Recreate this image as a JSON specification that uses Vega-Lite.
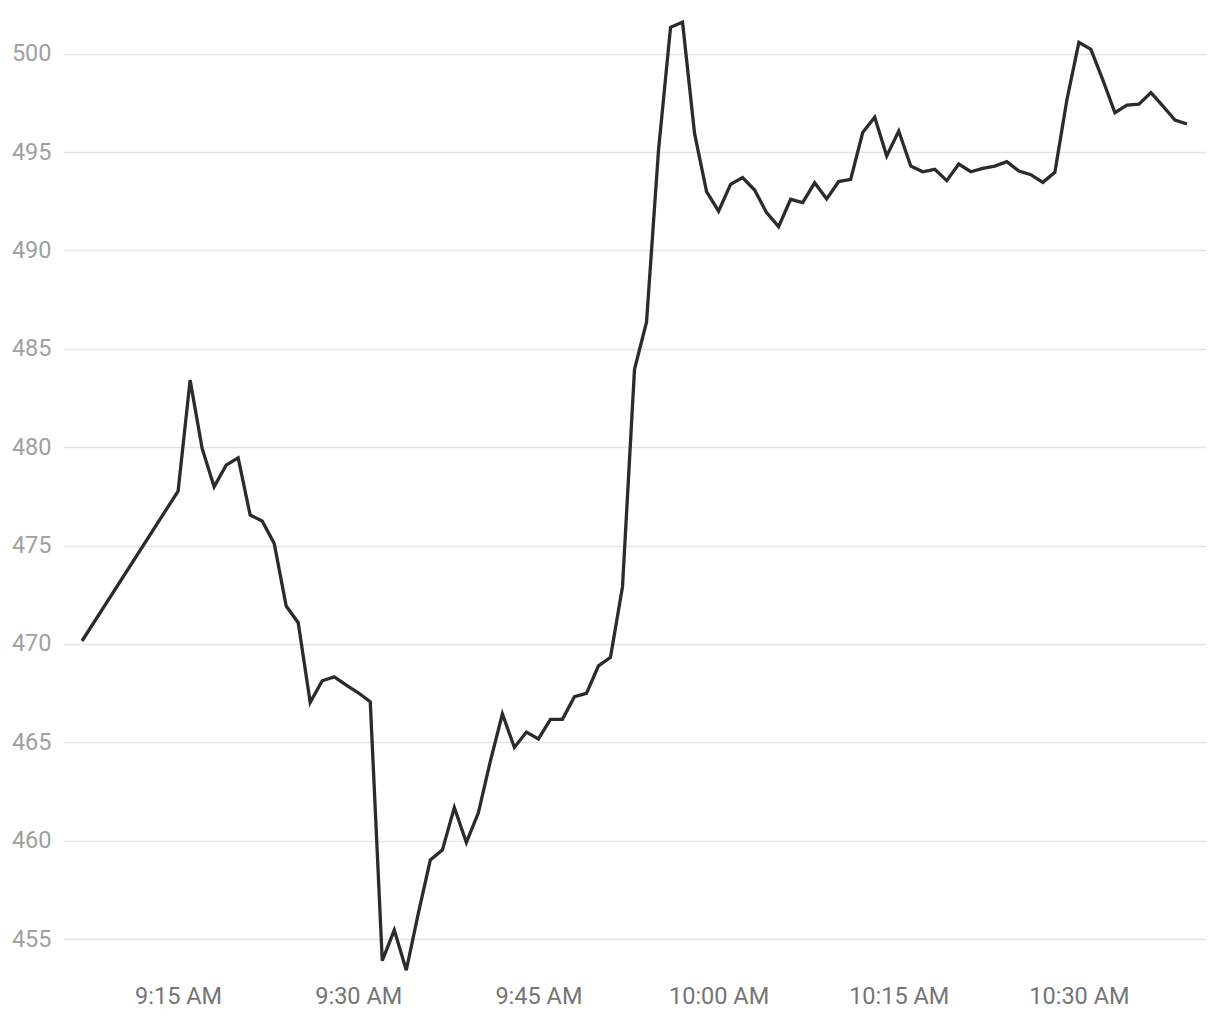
{
  "$schema": "https://vega.github.io/schema/vega-lite/v6.json",
  "width": 1143,
  "height": 980,
  "autosize": {"type": "none"},
  "padding": {"left": 63, "top": 0, "right": 14, "bottom": 40},
  "background": "white",
  "config": {
    "view": {"stroke": null},
    "font": "Roboto"
  },
  "data": {
    "values": [
      {"time": "2024-01-02T09:07:00", "price": 470.15},
      {"time": "2024-01-02T09:15:00", "price": 477.77},
      {"time": "2024-01-02T09:16:00", "price": 483.41},
      {"time": "2024-01-02T09:17:00", "price": 479.94},
      {"time": "2024-01-02T09:18:00", "price": 477.99},
      {"time": "2024-01-02T09:19:00", "price": 479.09},
      {"time": "2024-01-02T09:20:00", "price": 479.46},
      {"time": "2024-01-02T09:21:00", "price": 476.55},
      {"time": "2024-01-02T09:22:00", "price": 476.25},
      {"time": "2024-01-02T09:23:00", "price": 475.11},
      {"time": "2024-01-02T09:24:00", "price": 471.93},
      {"time": "2024-01-02T09:25:00", "price": 471.08},
      {"time": "2024-01-02T09:26:00", "price": 467.03},
      {"time": "2024-01-02T09:27:00", "price": 468.13},
      {"time": "2024-01-02T09:28:00", "price": 468.33},
      {"time": "2024-01-02T09:29:00", "price": 467.91},
      {"time": "2024-01-02T09:30:00", "price": 467.52},
      {"time": "2024-01-02T09:31:00", "price": 467.06},
      {"time": "2024-01-02T09:32:00", "price": 453.9},
      {"time": "2024-01-02T09:33:00", "price": 455.46},
      {"time": "2024-01-02T09:34:00", "price": 453.42},
      {"time": "2024-01-02T09:35:00", "price": 456.31},
      {"time": "2024-01-02T09:36:00", "price": 459.02},
      {"time": "2024-01-02T09:37:00", "price": 459.52},
      {"time": "2024-01-02T09:38:00", "price": 461.69},
      {"time": "2024-01-02T09:39:00", "price": 459.91},
      {"time": "2024-01-02T09:40:00", "price": 461.42},
      {"time": "2024-01-02T09:41:00", "price": 464.05},
      {"time": "2024-01-02T09:42:00", "price": 466.44},
      {"time": "2024-01-02T09:43:00", "price": 464.74},
      {"time": "2024-01-02T09:44:00", "price": 465.52},
      {"time": "2024-01-02T09:45:00", "price": 465.17},
      {"time": "2024-01-02T09:46:00", "price": 466.17},
      {"time": "2024-01-02T09:47:00", "price": 466.17},
      {"time": "2024-01-02T09:48:00", "price": 467.32},
      {"time": "2024-01-02T09:49:00", "price": 467.49},
      {"time": "2024-01-02T09:50:00", "price": 468.89},
      {"time": "2024-01-02T09:51:00", "price": 469.32},
      {"time": "2024-01-02T09:52:00", "price": 472.91},
      {"time": "2024-01-02T09:53:00", "price": 483.96},
      {"time": "2024-01-02T09:54:00", "price": 486.35},
      {"time": "2024-01-02T09:55:00", "price": 495.1},
      {"time": "2024-01-02T09:56:00", "price": 501.34},
      {"time": "2024-01-02T09:57:00", "price": 501.6},
      {"time": "2024-01-02T09:58:00", "price": 495.95},
      {"time": "2024-01-02T09:59:00", "price": 492.99},
      {"time": "2024-01-02T10:00:00", "price": 492.0},
      {"time": "2024-01-02T10:01:00", "price": 493.36},
      {"time": "2024-01-02T10:02:00", "price": 493.7},
      {"time": "2024-01-02T10:03:00", "price": 493.07},
      {"time": "2024-01-02T10:04:00", "price": 491.92},
      {"time": "2024-01-02T10:05:00", "price": 491.21},
      {"time": "2024-01-02T10:06:00", "price": 492.6},
      {"time": "2024-01-02T10:07:00", "price": 492.43},
      {"time": "2024-01-02T10:08:00", "price": 493.44},
      {"time": "2024-01-02T10:09:00", "price": 492.62},
      {"time": "2024-01-02T10:10:00", "price": 493.5},
      {"time": "2024-01-02T10:11:00", "price": 493.61},
      {"time": "2024-01-02T10:12:00", "price": 495.99},
      {"time": "2024-01-02T10:13:00", "price": 496.77},
      {"time": "2024-01-02T10:14:00", "price": 494.8},
      {"time": "2024-01-02T10:15:00", "price": 496.07},
      {"time": "2024-01-02T10:16:00", "price": 494.29},
      {"time": "2024-01-02T10:17:00", "price": 494.0},
      {"time": "2024-01-02T10:18:00", "price": 494.12},
      {"time": "2024-01-02T10:19:00", "price": 493.55},
      {"time": "2024-01-02T10:20:00", "price": 494.39},
      {"time": "2024-01-02T10:21:00", "price": 494.0},
      {"time": "2024-01-02T10:22:00", "price": 494.17},
      {"time": "2024-01-02T10:23:00", "price": 494.29},
      {"time": "2024-01-02T10:24:00", "price": 494.51},
      {"time": "2024-01-02T10:25:00", "price": 494.04},
      {"time": "2024-01-02T10:26:00", "price": 493.85},
      {"time": "2024-01-02T10:27:00", "price": 493.46},
      {"time": "2024-01-02T10:28:00", "price": 493.97},
      {"time": "2024-01-02T10:29:00", "price": 497.65},
      {"time": "2024-01-02T10:30:00", "price": 500.58},
      {"time": "2024-01-02T10:31:00", "price": 500.22},
      {"time": "2024-01-02T10:32:00", "price": 498.66},
      {"time": "2024-01-02T10:33:00", "price": 497.0},
      {"time": "2024-01-02T10:34:00", "price": 497.39},
      {"time": "2024-01-02T10:35:00", "price": 497.44},
      {"time": "2024-01-02T10:36:00", "price": 498.02},
      {"time": "2024-01-02T10:37:00", "price": 497.34},
      {"time": "2024-01-02T10:38:00", "price": 496.63},
      {"time": "2024-01-02T10:39:00", "price": 496.43}
    ]
  },
  "mark": {"type": "line", "color": "#2b2b2b", "strokeWidth": 3.3, "strokeJoin": "miter"},
  "encoding": {
    "x": {
      "field": "time",
      "type": "temporal",
      "title": null,
      "scale": {
        "nice": false,
        "domain": [
          {"year": 2024, "month": 1, "date": 2, "hours": 9, "minutes": 5, "seconds": 25},
          {"year": 2024, "month": 1, "date": 2, "hours": 10, "minutes": 40, "seconds": 35}
        ]
      },
      "axis": {
        "values": [
          {"year": 2024, "month": 1, "date": 2, "hours": 9, "minutes": 15},
          {"year": 2024, "month": 1, "date": 2, "hours": 9, "minutes": 30},
          {"year": 2024, "month": 1, "date": 2, "hours": 9, "minutes": 45},
          {"year": 2024, "month": 1, "date": 2, "hours": 10, "minutes": 0},
          {"year": 2024, "month": 1, "date": 2, "hours": 10, "minutes": 15},
          {"year": 2024, "month": 1, "date": 2, "hours": 10, "minutes": 30}
        ],
        "format": "%-I:%M %p",
        "grid": false,
        "domain": false,
        "ticks": false,
        "labelFont": "Roboto",
        "labelFontSize": 23.5,
        "labelColor": "#757575",
        "labelPadding": 4
      }
    },
    "y": {
      "field": "price",
      "type": "quantitative",
      "title": null,
      "scale": {"domain": [452.92, 502.73], "nice": false, "zero": false},
      "axis": {
        "values": [455, 460, 465, 470, 475, 480, 485, 490, 495, 500],
        "grid": true,
        "gridColor": "#e4e4e4",
        "gridWidth": 1.6,
        "domain": false,
        "ticks": false,
        "labelFont": "Roboto",
        "labelFontSize": 23.5,
        "labelColor": "#a0a0a0",
        "labelPadding": 12
      }
    }
  }
}
